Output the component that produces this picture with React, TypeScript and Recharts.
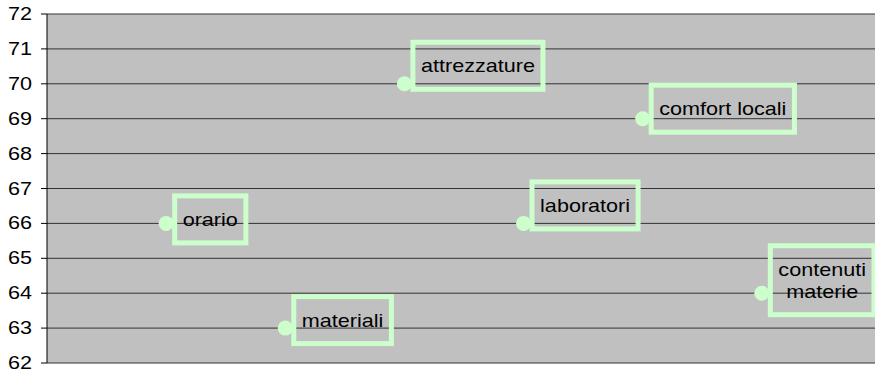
import React from 'react';
import { ScatterChart, Scatter, XAxis, YAxis, CartesianGrid } from 'recharts';

const categories = ['orario', 'materiali', 'attrezzature', 'laboratori', 'comfort locali', 'contenuti materie'];
const scores = [66, 63, 70, 66, 69, 64];
const yTicks = [62, 63, 64, 65, 66, 67, 68, 69, 70, 71, 72];

// label box vertical nudge (top edge relative to the point), as placed in the original
const labelOffsetY = [-30, -34, -44, -44, -36, -50];

const CHART_W = 875;
const CHART_H = 376;
const FONT = '"Liberation Sans", Arial, sans-serif';
const FONT_SIZE = 18;
const SX = 1.2; // original text is a bit stretched horizontally
const POINT = '#CCFFCC';

const data = categories.map((name, i) => ({ x: i + 1, y: scores[i], name, idx: i }));

let ctx: CanvasRenderingContext2D | null = null;
const textWidth = (s: string) => {
  if (!ctx) {
    ctx = document.createElement('canvas').getContext('2d');
    if (ctx) ctx.font = `${FONT_SIZE}px ${FONT}`;
  }
  return (ctx ? ctx.measureText(s).width : s.length * 9) * SX;
};

const YTick = (props: any) => {
  const { x, y, payload } = props;
  return (
    <text
      transform={`translate(${x - 7},${y + 6}) scale(${SX},1)`}
      textAnchor="end"
      fontFamily={FONT}
      fontSize={FONT_SIZE}
      fill="#000"
    >
      {payload.value}
    </text>
  );
};

const PointWithLabel = (props: any) => {
  const { cx, cy, payload } = props;
  const pad = 10.5;
  const border = 5;
  let lines = [payload.name as string];
  let w = textWidth(payload.name) + pad * 2;
  const left = cx + 6;
  if (left + w > CHART_W && payload.name.includes(' ')) {
    lines = payload.name.split(' ');
    w = Math.max(...lines.map(textWidth)) + pad * 2;
  }
  const lineH = 22;
  const h = 52 + (lines.length - 1) * lineH;
  const top = cy + labelOffsetY[payload.idx];
  const midY = top + h / 2;
  return (
    <g>
      <circle cx={cx} cy={cy} r={7.5} fill={POINT} />
      <rect
        x={left + border / 2}
        y={top + border / 2}
        width={w - border}
        height={h - border}
        fill="none"
        stroke={POINT}
        strokeWidth={border}
      />
      {lines.map((ln, i) => (
        <text
          key={ln}
          transform={`translate(${left + w / 2},${midY + (i - (lines.length - 1) / 2) * lineH + 6.5}) scale(${SX},1)`}
          textAnchor="middle"
          fontFamily={FONT}
          fontSize={FONT_SIZE}
          fill="#000"
        >
          {ln}
        </text>
      ))}
    </g>
  );
};

export default function App() {
  return (
    <div style={{ position: 'absolute', left: 0, top: 0, width: CHART_W, height: CHART_H, overflow: 'hidden', background: '#fff' }}>
      <ScatterChart width={CHART_W} height={CHART_H} margin={{ top: 14, right: 0, bottom: 13, left: 0 }}>
        <CartesianGrid horizontal vertical={false} fill="#C0C0C0" stroke="#333" strokeWidth={1} fillOpacity={1} />
        <XAxis type="number" dataKey="x" domain={[0, 6.95]} allowDataOverflow hide />
        <YAxis
          type="number"
          dataKey="y"
          domain={[62, 72]}
          ticks={yTicks}
          interval={0}
          width={47}
          tickSize={6}
          axisLine={{ stroke: '#000' }}
          tickLine={{ stroke: '#000' }}
          tick={<YTick />}
        />
        <Scatter data={data} shape={<PointWithLabel />} isAnimationActive={false} />
      </ScatterChart>
    </div>
  );
}
